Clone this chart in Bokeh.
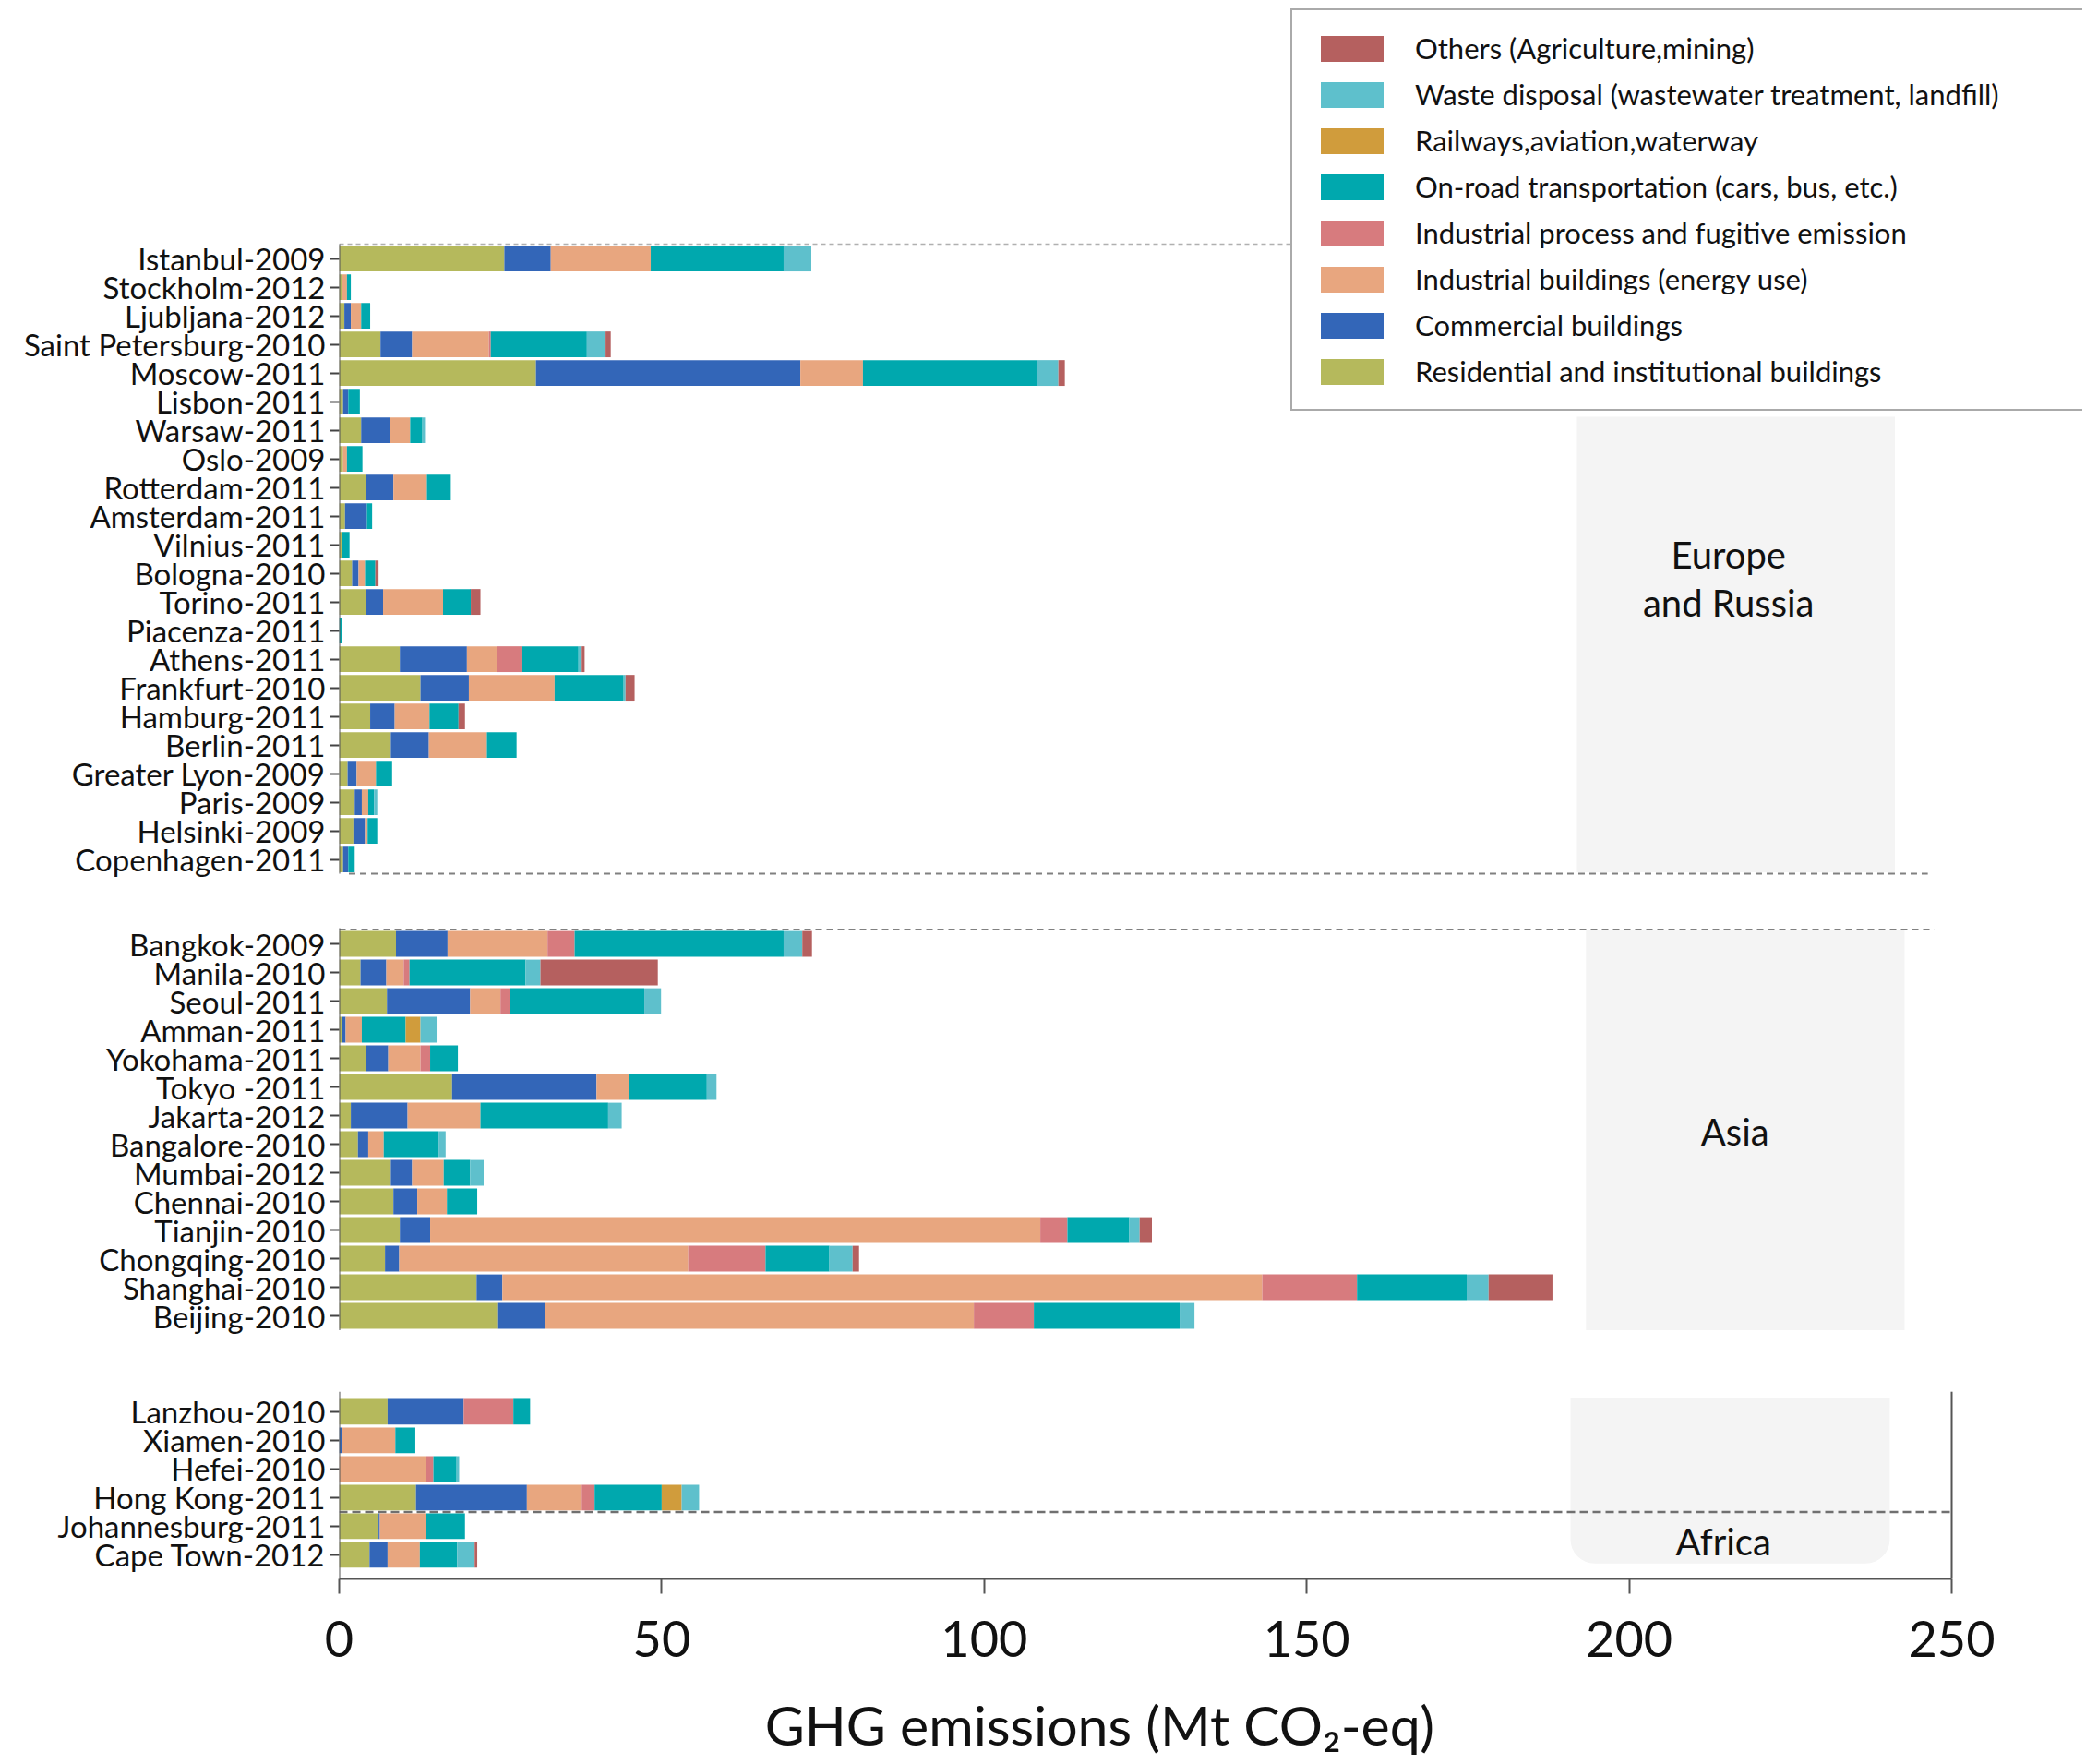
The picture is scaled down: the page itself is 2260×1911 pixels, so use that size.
from bokeh.plotting import figure
from bokeh.layouts import column
from bokeh.models import (Range1d, FixedTicker, CustomJSTickFormatter, Legend, LegendItem,
                          BoxAnnotation, ColumnDataSource)
from bokeh.core.properties import value
from bokeh.embed import file_html
from bokeh.resources import INLINE

# ---------------- data ----------------
europe = ["Istanbul-2009", "Stockholm-2012", "Ljubljana-2012", "Saint Petersburg-2010", "Moscow-2011",
          "Lisbon-2011", "Warsaw-2011", "Oslo-2009", "Rotterdam-2011", "Amsterdam-2011", "Vilnius-2011",
          "Bologna-2010", "Torino-2011", "Piacenza-2011", "Athens-2011", "Frankfurt-2010", "Hamburg-2011",
          "Berlin-2011", "Greater Lyon-2009", "Paris-2009", "Helsinki-2009", "Copenhagen-2011"]
asia = ["Bangkok-2009", "Manila-2010", "Seoul-2011", "Amman-2011", "Yokohama-2011", "Tokyo -2011",
        "Jakarta-2012", "Bangalore-2010", "Mumbai-2012", "Chennai-2010", "Tianjin-2010", "Chongqing-2010",
        "Shanghai-2010", "Beijing-2010"]
bottom = ["Lanzhou-2010", "Xiamen-2010", "Hefei-2010", "Hong Kong-2011", "Johannesburg-2011", "Cape Town-2012"]
cities = europe + asia + bottom

residential = [25.6, 0.5, 0.8, 6.4, 30.5, 0.6, 3.4, 0.6, 4.1, 0.9, 0.5, 2.0, 4.1, 0.0, 9.4, 12.6, 4.8, 8.0, 1.3, 2.4, 2.2, 0.6,
               8.8, 3.3, 7.4, 0.5, 4.1, 17.5, 1.8, 2.9, 8.0, 8.4, 9.4, 7.1, 21.3, 24.5,
               7.5, 0.0, 0.0, 11.9, 6.1, 4.7]
commercial = [7.2, 0.0, 1.0, 4.9, 41.0, 0.8, 4.5, 0.0, 4.3, 3.4, 0.0, 1.0, 2.7, 0.0, 10.4, 7.5, 3.8, 5.9, 1.4, 1.1, 1.8, 0.8,
              8.0, 4.0, 12.9, 0.5, 3.5, 22.4, 8.8, 1.6, 3.3, 3.7, 4.7, 2.2, 4.0, 7.4,
              11.8, 0.5, 0.0, 17.2, 0.2, 2.8]
ind_buildings = [15.5, 0.7, 1.6, 11.9, 9.7, 0.0, 3.1, 0.6, 5.2, 0.0, 0.0, 1.0, 9.3, 0.0, 4.6, 13.3, 5.4, 9.0, 3.0, 1.0, 0.4, 0.0,
                 15.5, 2.7, 4.7, 2.5, 5.0, 5.1, 11.3, 2.4, 4.9, 4.6, 94.6, 44.8, 117.8, 66.5,
                 0.0, 8.2, 13.4, 8.5, 7.1, 5.0]
ind_process = [0.0, 0.0, 0.0, 0.3, 0.0, 0.0, 0.0, 0.0, 0.0, 0.0, 0.0, 0.0, 0.0, 0.0, 4.0, 0.0, 0.0, 0.0, 0.0, 0.0, 0.0, 0.0,
               4.2, 0.9, 1.5, 0.0, 1.5, 0.0, 0.0, 0.0, 0.0, 0.0, 4.2, 12.0, 14.7, 9.3,
               7.7, 0.0, 1.2, 2.0, 0.0, 0.0]
on_road = [20.6, 0.6, 1.4, 14.9, 27.0, 1.8, 1.9, 2.4, 3.7, 0.8, 1.1, 1.6, 4.3, 0.5, 8.7, 10.7, 4.5, 4.6, 2.5, 0.9, 1.5, 1.0,
           32.4, 18.0, 20.8, 6.8, 4.3, 12.0, 19.8, 8.5, 4.1, 4.7, 9.6, 9.9, 17.0, 22.6,
           2.6, 3.1, 3.6, 10.4, 6.1, 5.8]
rail = [0.0] * 22 + [0.0, 0.0, 0.0, 2.3, 0.0, 0.0, 0.0, 0.0, 0.0, 0.0, 0.0, 0.0, 0.0, 0.0] + [0.0, 0.0, 0.0, 3.1, 0.0, 0.0]
waste = [4.3, 0.0, 0.0, 2.9, 3.3, 0.0, 0.4, 0.0, 0.0, 0.0, 0.0, 0.0, 0.0, 0.0, 0.5, 0.3, 0.0, 0.0, 0.0, 0.5, 0.0, 0.0,
         2.9, 2.3, 2.6, 2.5, 0.0, 1.5, 2.1, 1.1, 2.1, 0.0, 1.6, 3.6, 3.4, 2.3,
         0.0, 0.0, 0.4, 2.7, 0.0, 2.7]
others = [0.0, 0.0, 0.0, 0.8, 1.0, 0.0, 0.0, 0.0, 0.0, 0.0, 0.0, 0.5, 1.5, 0.0, 0.45, 1.4, 1.0, 0.0, 0.0, 0.0, 0.0, 0.0,
          1.5, 18.2, 0.0, 0.0, 0.0, 0.0, 0.0, 0.0, 0.0, 0.0, 1.9, 1.0, 9.9, 0.0,
          0.0, 0.0, 0.0, 0.0, 0.0, 0.4]

categories = ["residential", "commercial", "ind_buildings", "ind_process", "on_road", "rail", "waste", "others"]
category_labels = ["Residential and institutional buildings", "Commercial buildings",
                   "Industrial buildings (energy use)", "Industrial process and fugitive emission",
                   "On-road transportation (cars, bus, etc.)", "Railways,aviation,waterway",
                   "Waste disposal (wastewater treatment, landfill)", "Others (Agriculture,mining)"]
colors = ["#b5b95c", "#3366b8", "#e8a67f", "#d77b7e", "#00a8ae", "#d09c3c", "#5ec0cc", "#b5605f"]
x_ticks = [0, 50, 100, 150, 200, 250]
x_title = "GHG emissions (Mt CO₂-eq)"
region_names = ["Europe\nand Russia", "Asia", "Africa"]

# ---------------- layout constants ----------------
FONT = "Lato"
W = 2256
H1, H2 = 1808, 102
LEFT, TOP = 367, 7
AXIS_Y_PX = 1710
BOTTOM = H1 - AXIS_Y_PX
PX_PER_UNIT = 1747 / 250.0
ROW_PX = 31.0
FRAME_H = H1 - TOP - BOTTOM
X_END = (W - LEFT) / PX_PER_UNIT
Y_TOP = -(279.6 - TOP) / ROW_PX
Y_BOT = Y_TOP + FRAME_H / ROW_PX
offsets = [0.0, 23.95, 40.3]
groups = [europe, asia, bottom]

ys = []
for off, g in zip(offsets, groups):
    ys += [off + i for i in range(len(g))]

src = ColumnDataSource(dict(y=ys, city=cities, residential=residential, commercial=commercial,
                            ind_buildings=ind_buildings, ind_process=ind_process, on_road=on_road,
                            rail=rail, waste=waste, others=others))

p = figure(width=W, height=H1, x_range=Range1d(0, X_END), y_range=Range1d(Y_BOT, Y_TOP),
           output_backend="svg", toolbar_location=None,
           min_border_left=LEFT, min_border_right=0, min_border_top=TOP, min_border_bottom=BOTTOM)
p.outline_line_color = None
p.xgrid.visible = False
p.ygrid.visible = False
p.background_fill_color = "white"

# region boxes
box_color = "#f4f4f4"
p.add_layout(BoxAnnotation(left=191.9, right=241.2, top=5.53, bottom=21.45, fill_color=box_color,
                           fill_alpha=1, line_color=None, level="underlay"))
p.add_layout(BoxAnnotation(left=193.3, right=242.7, top=23.45, bottom=37.45, fill_color=box_color,
                           fill_alpha=1, line_color=None, level="underlay"))
p.add_layout(BoxAnnotation(left=190.9, right=240.4, top=39.8, bottom=45.6, fill_color=box_color,
                           fill_alpha=1, line_color=None, level="underlay", border_radius=(0, 0, 26, 26)))

# dashed separators
p.segment(x0=[0], y0=[-0.5], x1=[150], y1=[-0.5], line_color="#b0b0b0", line_width=1.5, line_dash="5 4")
p.segment(x0=[1.5, 0], y0=[21.5, 23.45], x1=[246.3, 247.3], y1=[21.5, 23.45],
          line_color="#808080", line_width=2, line_dash="7 5")
p.segment(x0=[0], y0=[43.8], x1=[250], y1=[43.8], line_color="#707070", line_width=2.5, line_dash="9 5")

# stacked bars
renderers = p.hbar_stack(categories, y="y", height=0.9, source=src, fill_color=colors, line_color=None)

# per-panel left axis lines and right frame
gs = []
for off, g in zip(offsets, groups):
    gs.append((off - 0.5, off + len(g) - 0.5))
p.segment(x0=[0, 0, 0], y0=[gs[0][0], gs[1][0] - 0.05, gs[2][0] - 0.2],
          x1=[0, 0, 0], y1=[gs[0][1], gs[1][1], Y_BOT], line_color="#555555", line_width=2)
p.segment(x0=[250], y0=[gs[2][0] - 0.2], x1=[250], y1=[Y_BOT], line_color="#555555", line_width=2)

# region labels
p.text(x=[215.4, 215.4, 216.4, 214.6], y=[10.36, 12.04, 30.5, 44.85],
       text=region_names[0].split("\n") + region_names[1:],
       text_align="center", text_baseline="middle", text_font=value(FONT), text_font_size="40px",
       text_color="#111111")

# y axis
yax = p.yaxis[0]
yax.ticker = FixedTicker(ticks=ys)
yax.formatter = CustomJSTickFormatter(args=dict(pos=ys, names=cities), code="""
let best = -1, bd = 1e9;
for (let i = 0; i < pos.length; i++) { const d = Math.abs(pos[i] - tick); if (d < bd) { bd = d; best = i; } }
return bd < 0.01 ? names[best] : "";
""")
yax.axis_line_color = None
yax.major_tick_out = 10
yax.major_tick_in = 0
yax.major_tick_line_color = "#444444"
yax.major_tick_line_width = 2
yax.minor_tick_line_color = None
yax.major_label_standoff = 5
yax.major_label_text_font = FONT
yax.major_label_text_font_size = "33px"
yax.major_label_text_color = "#111111"

# x axis
xax = p.xaxis[0]
xax.ticker = FixedTicker(ticks=x_ticks)
xax.bounds = (0, 250)
xax.axis_line_color = "#555555"
xax.axis_line_width = 2
xax.major_tick_out = 16
xax.major_tick_in = 0
xax.major_tick_line_color = "#555555"
xax.major_tick_line_width = 2
xax.minor_tick_line_color = None
xax.major_label_standoff = 29
xax.major_label_text_font = FONT
xax.major_label_text_font_size = "54px"
xax.major_label_text_color = "#111111"

# legend (top-down reversed order)
items = [LegendItem(label=category_labels[i], renderers=[renderers[i]]) for i in reversed(range(len(categories)))]
legend = Legend(items=items, location=(1031, 1265), glyph_width=85, glyph_height=35, spacing=12,
                label_standoff=26, padding=22, margin=0, border_line_color="#555555", border_line_width=2,
                label_text_font=FONT, label_text_font_size="31px", label_text_color="#111111",
                label_width=780, background_fill_alpha=1)
p.add_layout(legend)

# x-axis title strip, sharing the x scale so the title sits under the 0-250 span
p2 = figure(width=W, height=H2, x_range=p.x_range, y_range=Range1d(-1, 1),
            output_backend="svg", toolbar_location=None,
            min_border_left=LEFT, min_border_right=0, min_border_top=0, min_border_bottom=0)
p2.xaxis.visible = False
p2.yaxis.visible = False
p2.xgrid.visible = False
p2.ygrid.visible = False
p2.outline_line_color = None
p2.text(x=[117.9], y=[1 - 2 * 60 / H2], text=[x_title], text_align="center", text_baseline="middle",
        text_font=value(FONT), text_font_size="59px", text_color="#111111")

layout = column(p, p2, spacing=0)
open("out.html", "w").write(file_html(layout, INLINE))
